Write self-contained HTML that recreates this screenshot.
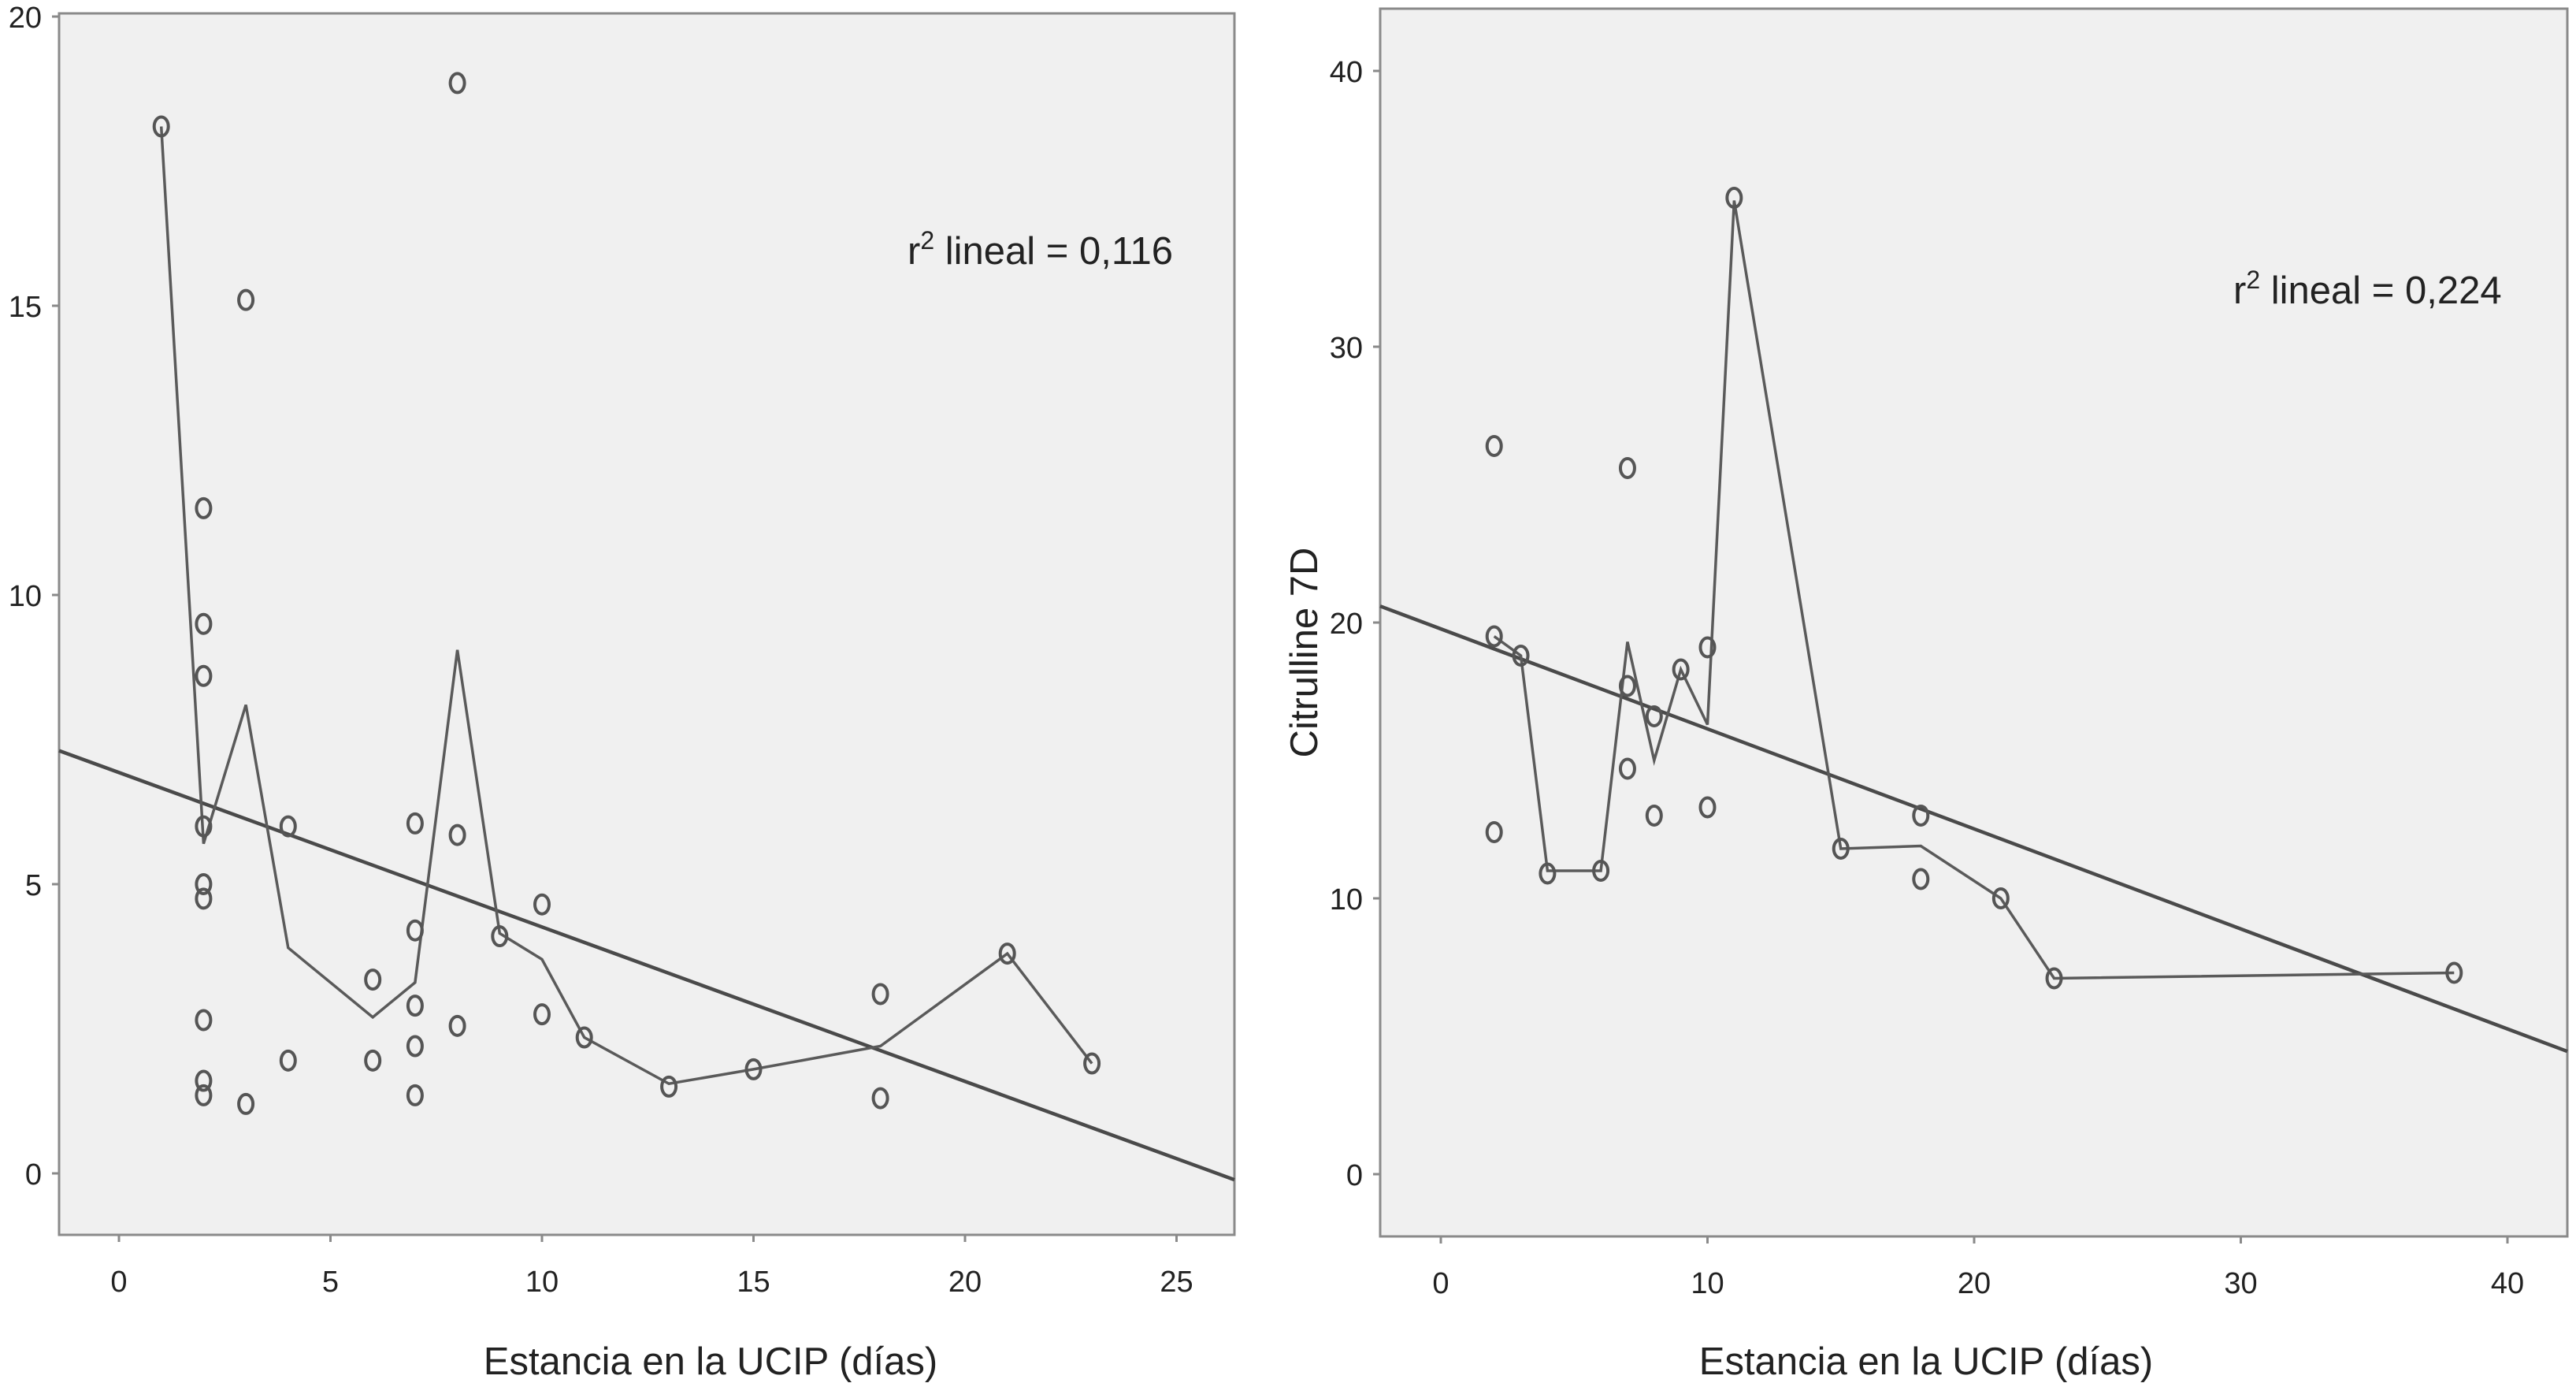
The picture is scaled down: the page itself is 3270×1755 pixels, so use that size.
<!DOCTYPE html>
<html><head><meta charset="utf-8"><style>
html,body{margin:0;padding:0;background:#fff;}
svg{display:block;}
text{font-family:"Liberation Sans",sans-serif;fill:#222;}
</style></head><body>
<svg id="chart" width="3270" height="1755" viewBox="0 0 3270 1755"></svg>
<script>
// Left chart data
const leftX = [1,2,2,2,2,2,2,2,2,2,3,3,4,4,6,6,7,7,7,7,7,8,8,8,9,10,10,11,13,15,18,18,21,23];
const leftY = [18.1,11.5,9.5,8.6,6,5,4.75,2.65,1.6,1.35,15.1,1.2,6,1.95,3.35,1.95,6.05,4.2,2.9,2.2,1.35,18.85,5.85,2.55,4.1,4.65,2.75,2.35,1.5,1.8,3.1,1.3,3.8,1.9];
const leftFitX = [1,2,3,4,6,7,8,9,10,11,13,15,18,21,23];
const leftFitY = [18.1,5.7,8.1,3.9,2.7,3.3,9.05,4.15,3.7,2.35,1.55,1.8,2.2,3.8,1.9];
const leftReg = [6.93,-0.267];
const leftXTicks = [0,5,10,15,20,25];
const leftYTicks = [0,5,10,15,20];
// Right chart data
const rightX = [2,2,2,3,4,6,7,7,7,8,8,9,10,10,11,15,18,18,21,23,38];
const rightY = [26.4,19.5,12.4,18.8,10.9,11,25.6,17.7,14.7,16.6,13,18.3,19.1,13.3,35.4,11.8,13,10.7,10,7.1,7.3];
const rightFitX = [2,3,4,6,7,8,9,10,11,15,18,21,23,38];
const rightFitY = [19.5,18.8,11,11,19.3,15,18.3,16.3,35.3,11.8,11.9,10,7.1,7.3];
const rightReg = [19.77,-0.3626];
const rightXTicks = [0,10,20,30,40];
const rightYTicks = [0,10,20,30,40];

const NS='http://www.w3.org/2000/svg';
const svg=document.getElementById('chart');
function mk(tag,attrs,parent){const e=document.createElementNS(NS,tag);for(const k in attrs)e.setAttribute(k,attrs[k]);(parent||svg).appendChild(e);return e;}

function panel(cfg){
  const g=mk('g',{});
  
  
  const sx=v=>cfg.x0px+(v)*cfg.xs;
  const sy=v=>cfg.y0px-(v)*cfg.ys;
  const bg=mk('rect',{x:cfg.L,y:cfg.T,width:cfg.R-cfg.L,height:cfg.B-cfg.T,fill:'#f0f0f0',stroke:'#8a8a8a','stroke-width':3},g);
  
  
  cfg.yt.forEach(t=>{
    mk('line',{x1:cfg.L-9,x2:cfg.L,y1:sy(t),y2:sy(t),stroke:'#8a8a8a','stroke-width':3},g);
    const tx=mk('text',{x:cfg.L-22,y:sy(t)+14,'font-size':38,'text-anchor':'end'},g);
    tx.textContent=t;
    
    
  });
  cfg.xt.forEach(t=>{
    mk('line',{x1:sx(t),x2:sx(t),y1:cfg.B,y2:cfg.B+9,stroke:'#8a8a8a','stroke-width':3},g);
    const tx=mk('text',{x:sx(t),y:cfg.B+72,'font-size':38,'text-anchor':'middle'},g);
    tx.textContent=t;
    
    
  });
  const xa=(cfg.L-cfg.x0px)/cfg.xs, xb=(cfg.R-cfg.x0px)/cfg.xs;
  const reg=mk('line',{x1:sx(xa),y1:sy(cfg.reg[0]+cfg.reg[1]*xa),x2:sx(xb),y2:sy(cfg.reg[0]+cfg.reg[1]*xb),stroke:'#4a4a4a','stroke-width':4.5},g);
  
  
  const pts=cfg.fx.map((v,i)=>sx(v)+','+sy(cfg.fy[i])).join(' ');
  const fl=mk('polyline',{points:pts,fill:'none',stroke:'#5a5a5a','stroke-width':3.5},g);
  
  
  cfg.px.forEach((v,i)=>{
    const c=mk('ellipse',{cx:sx(v),cy:sy(cfg.py[i]),rx:9,ry:12,fill:'none',stroke:'#555','stroke-width':4},g);
    
    
  });
  const r=mk('text',{x:cfg.r2x,y:cfg.r2y,'font-size':49},g);
  r.innerHTML='r<tspan dy="-19" font-size="32">2</tspan><tspan dy="19"> lineal = '+cfg.r2+'</tspan>';
  
  
  const xt=mk('text',{x:cfg.xtx,y:1744,'font-size':49,'text-anchor':'middle'},g);
  xt.textContent='Estancia en la UCIP (días)';
  
  
  if(cfg.ytitle){
    const yt=mk('text',{x:0,y:0,'font-size':49,'text-anchor':'middle',transform:'translate(1672,828) rotate(-90)'},g);
    yt.textContent=cfg.ytitle;
    
    
  }
}
panel({name:'left-panel',L:75,R:1567,T:17,B:1567,x0px:151,xs:53.7,y0px:1489,ys:73.4,
  xt:leftXTicks,yt:leftYTicks,px:leftX,py:leftY,fx:leftFitX,fy:leftFitY,reg:leftReg,
  r2:'0,116',r2x:1152,r2y:335,xtx:902});
panel({name:'right-panel',L:1752,R:3259,T:11,B:1569,x0px:1829,xs:33.85,y0px:1490,ys:35,
  xt:rightXTicks,yt:rightYTicks,px:rightX,py:rightY,fx:rightFitX,fy:rightFitY,reg:rightReg,
  r2:'0,224',r2x:2835,r2y:385,xtx:2445,ytitle:'Citrulline 7D'});
</script>
</body></html>
